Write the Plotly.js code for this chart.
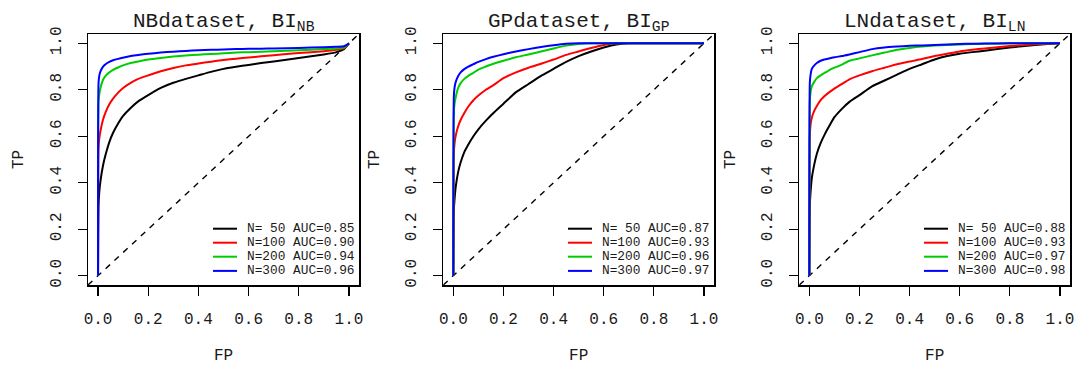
<!DOCTYPE html>
<html>
<head>
<meta charset="utf-8">
<script src="https://cdn.plot.ly/plotly-3.0.1.min.js"></script>
<style>html,body{margin:0;padding:0;background:#fff;}#chart{width:1076px;height:365px;}</style>
</head>
<body>
<div id="chart"></div>
<script>
// ---------- data ----------
const fpGrid = [0, 0.002, 0.005, 0.01, 0.02, 0.03, 0.045, 0.06, 0.08, 0.1, 0.13, 0.16, 0.2, 0.25, 0.3, 0.35, 0.4, 0.45, 0.5, 0.55, 0.6, 0.65, 0.7, 0.8, 0.9, 0.95, 0.98, 1.0];

// NB dataset
const nbTP50  = [0, 0.30, 0.36, 0.41, 0.475, 0.52, 0.575, 0.615, 0.655, 0.688, 0.722, 0.75, 0.777, 0.808, 0.83, 0.847, 0.862, 0.877, 0.89, 0.899, 0.907, 0.915, 0.922, 0.937, 0.952, 0.962, 0.975, 1.0];
const nbTP100 = [0, 0.55, 0.59, 0.625, 0.672, 0.703, 0.738, 0.762, 0.788, 0.808, 0.83, 0.847, 0.862, 0.88, 0.894, 0.905, 0.913, 0.921, 0.928, 0.934, 0.939, 0.944, 0.949, 0.958, 0.966, 0.972, 0.978, 1.0];
const nbTP200 = [0, 0.75, 0.78, 0.81, 0.843, 0.86, 0.875, 0.886, 0.896, 0.905, 0.915, 0.922, 0.93, 0.937, 0.943, 0.948, 0.951, 0.954, 0.957, 0.96, 0.962, 0.964, 0.966, 0.97, 0.975, 0.978, 0.982, 1.0];
const nbTP300 = [0, 0.83, 0.86, 0.88, 0.90, 0.91, 0.92, 0.927, 0.933, 0.938, 0.945, 0.95, 0.955, 0.96, 0.964, 0.967, 0.97, 0.972, 0.973, 0.975, 0.976, 0.977, 0.978, 0.98, 0.983, 0.985, 0.987, 1.0];

// GP dataset
const gpTP50  = [0, 0.28, 0.33, 0.385, 0.45, 0.49, 0.535, 0.565, 0.6, 0.63, 0.667, 0.70, 0.74, 0.79, 0.825, 0.86, 0.89, 0.92, 0.945, 0.965, 0.982, 0.995, 1.0, 1.0, 1.0, 1.0, 1.0, 1.0];
const gpTP100 = [0, 0.52, 0.57, 0.605, 0.645, 0.672, 0.702, 0.728, 0.755, 0.775, 0.80, 0.82, 0.85, 0.875, 0.895, 0.912, 0.93, 0.95, 0.965, 0.98, 0.993, 1.0, 1.0, 1.0, 1.0, 1.0, 1.0, 1.0];
const gpTP200 = [0, 0.70, 0.74, 0.77, 0.81, 0.83, 0.848, 0.86, 0.873, 0.887, 0.90, 0.912, 0.925, 0.94, 0.952, 0.965, 0.978, 0.99, 0.997, 1.0, 1.0, 1.0, 1.0, 1.0, 1.0, 1.0, 1.0, 1.0];
const gpTP300 = [0, 0.77, 0.81, 0.835, 0.86, 0.876, 0.89, 0.90, 0.91, 0.92, 0.932, 0.942, 0.953, 0.965, 0.975, 0.984, 0.992, 0.998, 1.0, 1.0, 1.0, 1.0, 1.0, 1.0, 1.0, 1.0, 1.0, 1.0];

// LN dataset
const lnTP50  = [0, 0.30, 0.36, 0.42, 0.48, 0.525, 0.57, 0.605, 0.645, 0.682, 0.718, 0.748, 0.777, 0.815, 0.84, 0.865, 0.89, 0.91, 0.93, 0.945, 0.955, 0.962, 0.968, 0.982, 0.993, 0.997, 0.999, 1.0];
const lnTP100 = [0, 0.60, 0.65, 0.68, 0.71, 0.73, 0.755, 0.772, 0.79, 0.805, 0.825, 0.845, 0.862, 0.88, 0.895, 0.91, 0.922, 0.932, 0.945, 0.955, 0.965, 0.972, 0.978, 0.988, 0.996, 0.998, 1.0, 1.0];
const lnTP200 = [0, 0.75, 0.79, 0.815, 0.835, 0.85, 0.862, 0.872, 0.885, 0.895, 0.908, 0.925, 0.935, 0.948, 0.96, 0.972, 0.98, 0.986, 0.99, 0.993, 0.995, 0.997, 0.998, 1.0, 1.0, 1.0, 1.0, 1.0];
const lnTP300 = [0, 0.83, 0.865, 0.89, 0.905, 0.915, 0.925, 0.93, 0.935, 0.94, 0.945, 0.952, 0.962, 0.975, 0.982, 0.986, 0.989, 0.991, 0.993, 0.995, 0.997, 0.998, 0.999, 1.0, 1.0, 1.0, 1.0, 1.0];

const panelTitles = ["NBdataset, BI<sub>NB</sub>", "GPdataset, BI<sub>GP</sub>", "LNdataset, BI<sub>LN</sub>"];
const nbLabels = ["N= 50 AUC=0.85", "N=100 AUC=0.90", "N=200 AUC=0.94", "N=300 AUC=0.96"];
const gpLabels = ["N= 50 AUC=0.87", "N=100 AUC=0.93", "N=200 AUC=0.96", "N=300 AUC=0.97"];
const lnLabels = ["N= 50 AUC=0.88", "N=100 AUC=0.93", "N=200 AUC=0.97", "N=300 AUC=0.98"];
const seriesColors = ["#000000", "#FF0000", "#00CD00", "#0000FF"];
const tickVals = [0, 0.2, 0.4, 0.6, 0.8, 1.0];
const tickText = ["0.0", "0.2", "0.4", "0.6", "0.8", "1.0"];
const axisRange = [-0.04, 1.04];
const xTitle = "FP", yTitle = "TP";

// ---------- layout geometry (pixels) ----------
const W = 1076, H = 365;
const boxes = [{l: 88, r: 359}, {l: 443.3, r: 714}, {l: 799.3, r: 1070}];
const boxTop = 34, boxBot = 285;
const fx = px => px / W;
const fy = py => 1 - py / H;
const FONT = '"Courier New", "Liberation Mono", monospace';
const TXT = "#1a1a1a";

const panelSeries = [
  [nbTP50, nbTP100, nbTP200, nbTP300],
  [gpTP50, gpTP100, gpTP200, gpTP300],
  [lnTP50, lnTP100, lnTP200, lnTP300]
];
const panelLabels = [nbLabels, gpLabels, lnLabels];

const traces = [];
const layout = {
  width: W, height: H,
  margin: {l: 0, r: 0, t: 0, b: 0},
  paper_bgcolor: "#ffffff", plot_bgcolor: "#ffffff",
  showlegend: false,
  font: {family: FONT, color: TXT},
  annotations: [], shapes: []
};

panelSeries.forEach((series, p) => {
  const xa = p === 0 ? "x" : "x" + (p + 1);
  const ya = p === 0 ? "y" : "y" + (p + 1);
  const xk = p === 0 ? "xaxis" : "xaxis" + (p + 1);
  const yk = p === 0 ? "yaxis" : "yaxis" + (p + 1);
  // diagonal reference line
  traces.push({x: axisRange, y: axisRange, xaxis: xa, yaxis: ya, mode: "lines",
    line: {color: "#000000", width: 1.4, dash: "6px,6px"}, hoverinfo: "skip"});
  series.forEach((tp, i) => {
    traces.push({x: fpGrid, y: tp, xaxis: xa, yaxis: ya, mode: "lines",
      name: panelLabels[p][i], line: {color: seriesColors[i], width: 2, shape: "spline", smoothing: 0.5}});
  });
  const b = boxes[p];
  const common = {range: axisRange, tickvals: tickVals, ticktext: tickText, ticks: "outside",
    ticklen: 9, tickwidth: 1.2, tickcolor: "#000", showline: true, mirror: true, linecolor: "#000",
    linewidth: 1.5, showgrid: false, zeroline: false, automargin: false,
    tickfont: {family: FONT, size: 16, color: TXT}};
  layout[xk] = Object.assign({}, common, {domain: [fx(b.l), fx(b.r)], anchor: ya, ticklabelstandoff: 9,
    title: {text: xTitle, standoff: 22, font: {family: FONT, size: 16, color: TXT}}});
  layout[yk] = Object.assign({}, common, {domain: [fy(boxBot), fy(boxTop)], anchor: xa, tickangle: -90, ticklabelstandoff: 10,
    title: {text: yTitle, standoff: 20, font: {family: FONT, size: 16, color: TXT}}});

  const cx = (b.l + b.r) / 2;
  layout.annotations.push({text: panelTitles[p], xref: "paper", yref: "paper", x: fx(cx), y: fy(23),
    xanchor: "center", yanchor: "middle", showarrow: false, font: {family: FONT, size: 21, color: TXT}});
  // legend
  const rows = [228.7, 242.7, 256.7, 270.9];
  const textLeft = b.r - 114;
  panelLabels[p].forEach((lab, i) => {
    layout.annotations.push({text: lab, xref: "paper", yref: "paper", x: fx(textLeft), y: fy(rows[i]),
      xanchor: "left", yanchor: "middle", showarrow: false, font: {family: FONT, size: 12.8, color: TXT}});
    layout.shapes.push({type: "line", xref: "paper", yref: "paper", x0: fx(textLeft - 32), x1: fx(textLeft - 8),
      y0: fy(rows[i]), y1: fy(rows[i]), line: {color: seriesColors[i], width: 2}});
  });
});

Plotly.newPlot("chart", traces, layout, {displayModeBar: false, staticPlot: true});
</script>
</body>
</html>
